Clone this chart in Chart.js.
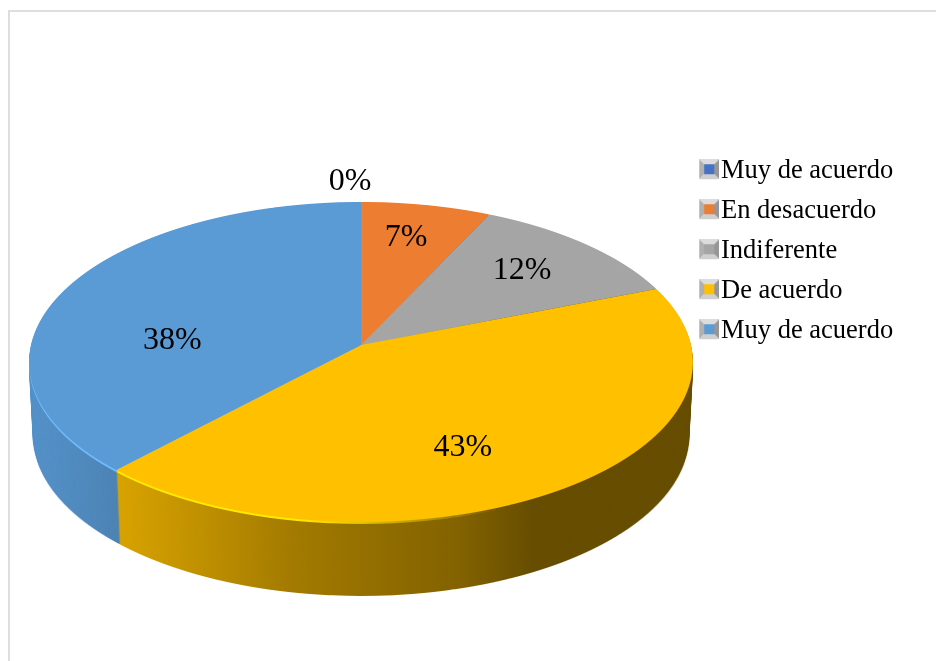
<!DOCTYPE html>
<html>
<head>
<meta charset="utf-8">
<style>
    html, body { margin: 0; padding: 0; background: #fff; overflow: hidden; }
    #frame { position: absolute; left: 8px; top: 10px; width: 936px; height: 661px; border-top: 2px solid #dedede; border-left: 2px solid #dedede; }
    #chart { position: absolute; left: 0; top: 0; filter: blur(0.4px); }
</style>
<script src="https://cdn.jsdelivr.net/npm/chart.js@4"></script>
</head>
<body>
<div id="frame"></div>
<canvas id="chart" width="936" height="661"></canvas>
<script>
const categories = ['Muy de acuerdo', 'En desacuerdo', 'Indiferente', 'De acuerdo', 'Muy de acuerdo'];
const percentages = [0, 7, 12, 43, 38];
const sliceColors = ['#4472C4', '#ED7D31', '#A5A5A5', '#FFC000', '#5B9BD5'];

// pixel nudges for the percent labels, same order as the slices
const labelNudge = [[-11, 5], [-5, 0], [-10, 3], [-47, -2], [35, 38]];
const labelRadius = [1.2, 0.75, 0.75, 0.75, 0.75];

// pie seen in perspective: apex on the page, tilt and wall depth
const apexX = 361;
const apexY = 345;
const pieRadius = 332;
const tilt = -0.106;
const squash = 158.2;
const widthFix = 0.994;
const wallDepth = 74;
const wallNarrow = 0.988;

function offscreen(w, h) {
    const c = document.createElement('canvas');
    c.width = w;
    c.height = h;
    return c;
}

function projectPoint(angle, f) {
    const x = Math.sin(angle) * f;
    const y = -Math.cos(angle) * f;
    const d = 1 + tilt * y;
    return { x: apexX + pieRadius * widthFix * x / d, y: apexY + squash * y / d };
}

// draw the library's arcs row by row so the circle lands in perspective
function drawTopFace(ctx, arcs, w) {
    const unproject = Y => pieRadius * Y / (squash - tilt * Y);
    for (let Y = -150; Y < 185; Y++) {
        const y0 = unproject(Y);
        const y1 = unproject(Y + 1);
        const sx = widthFix / (1 + tilt * unproject(Y + 0.5) / pieRadius);
        arcs.forEach(arc => {
            ctx.save();
            ctx.beginPath();
            ctx.rect(0, apexY + Y, w, 1);
            ctx.clip();
            ctx.translate(apexX, apexY + Y);
            ctx.scale(sx, 1 / (y1 - y0));
            ctx.translate(-arc.x, -arc.y - y0);
            arc.draw(ctx);
            ctx.restore();
        });
    }
}

function drawWall(top, w, h) {
    const wall = offscreen(w, h);
    const c = wall.getContext('2d');
    for (let k = wallDepth; k >= 1; k--) {
        const s = 1 - (1 - wallNarrow) * k / wallDepth;
        c.drawImage(top, apexX - apexX * s, k, w * s, h);
    }
    const shade = c.createLinearGradient(29, 0, 693, 0);
    shade.addColorStop(0, 'rgba(0,0,0,0.05)');
    shade.addColorStop(0.13, 'rgba(0,0,0,0.15)');
    shade.addColorStop(0.26, 'rgba(0,0,0,0.25)');
    shade.addColorStop(0.4, 'rgba(0,0,0,0.365)');
    shade.addColorStop(0.65, 'rgba(0,0,0,0.49)');
    shade.addColorStop(0.76, 'rgba(0,0,0,0.6)');
    shade.addColorStop(1, 'rgba(0,0,0,0.6)');
    c.globalCompositeOperation = 'source-atop';
    c.fillStyle = shade;
    c.fillRect(0, 0, w, h);
    c.globalCompositeOperation = 'source-over';
    return wall;
}

function drawRim(top, w, h) {
    const rim = offscreen(w, h);
    const c = rim.getContext('2d');
    c.filter = 'brightness(1.22)';
    c.drawImage(top, 0, 2);
    c.filter = 'none';
    const fade = c.createLinearGradient(300, 0, 500, 0);
    fade.addColorStop(0, 'rgba(0,0,0,1)');
    fade.addColorStop(1, 'rgba(0,0,0,0)');
    c.globalCompositeOperation = 'destination-in';
    c.fillStyle = fade;
    c.fillRect(0, 0, w, h);
    return rim;
}

const piePlugin = {
    id: 'perspectivePie',
    afterLayout(chart) {
        const legend = chart.legend;
        const lw = legend.width;
        const lh = legend.height;
        legend.left = 693.25;
        legend.top = 144.5;
        legend.right = legend.left + lw;
        legend.bottom = legend.top + lh;
    },
    beforeDatasetsDraw(chart) {
        const ctx = chart.ctx;
        const w = chart.width;
        const h = chart.height;
        const arcs = chart.getDatasetMeta(0).data;

        const top = offscreen(w, h);
        drawTopFace(top.getContext('2d'), arcs, w);

        ctx.drawImage(drawWall(top, w, h), 0, 0);
        ctx.drawImage(drawRim(top, w, h), 0, 0);
        ctx.drawImage(top, 0, 0);

        ctx.save();
        ctx.font = '32px "Liberation Serif"';
        ctx.fillStyle = '#000';
        ctx.textAlign = 'center';
        ctx.textBaseline = 'middle';
        arcs.forEach((arc, i) => {
            const mid = (arc.startAngle + arc.endAngle) / 2 + Math.PI / 2;
            const p = projectPoint(mid, labelRadius[i]);
            ctx.fillText(percentages[i] + '%', p.x + labelNudge[i][0], p.y + labelNudge[i][1]);
        });
        ctx.restore();
        return false;
    }
};

// bevelled legend key
function legendKey(color) {
    const c = offscreen(24, 24);
    const g = c.getContext('2d');
    const l = 4, r = 24, t = 0, b = 20, il = 9, ir = 19, it = 5, ib = 15;
    const face = (pts, fill) => {
        g.fillStyle = fill;
        g.beginPath();
        pts.forEach((p, i) => i ? g.lineTo(p[0], p[1]) : g.moveTo(p[0], p[1]));
        g.closePath();
        g.fill();
    };
    face([[l, t], [r, t], [ir, it], [il, it]], '#dcdcdc');
    face([[l, t], [il, it], [il, ib], [l, b]], '#b0b0b0');
    face([[r, t], [ir, it], [ir, ib], [r, b]], '#969696');
    face([[l, b], [il, ib], [ir, ib], [r, b]], '#cfcfcf');
    g.fillStyle = color;
    g.fillRect(il, it, ir - il, ib - it);
    return c;
}

new Chart(document.getElementById('chart').getContext('2d'), {
    type: 'pie',
    data: {
        labels: categories,
        datasets: [{
            data: percentages,
            backgroundColor: sliceColors,
            borderWidth: 0,
            radius: pieRadius
        }]
    },
    plugins: [piePlugin],
    options: {
        responsive: false,
        animation: false,
        plugins: {
            tooltip: { enabled: false },
            legend: {
                position: 'right',
                align: 'start',
                labels: {
                    usePointStyle: true,
                    pointStyleWidth: 1,
                    padding: 13.5,
                    color: '#000',
                    font: { family: '"Liberation Serif"', size: 26.5 },
                    generateLabels: () => categories.map((text, i) => ({
                        text: text,
                        fillStyle: sliceColors[i],
                        pointStyle: legendKey(sliceColors[i]),
                        lineWidth: 0,
                        hidden: false,
                        index: i
                    }))
                }
            }
        }
    }
});
</script>
</body>
</html>
